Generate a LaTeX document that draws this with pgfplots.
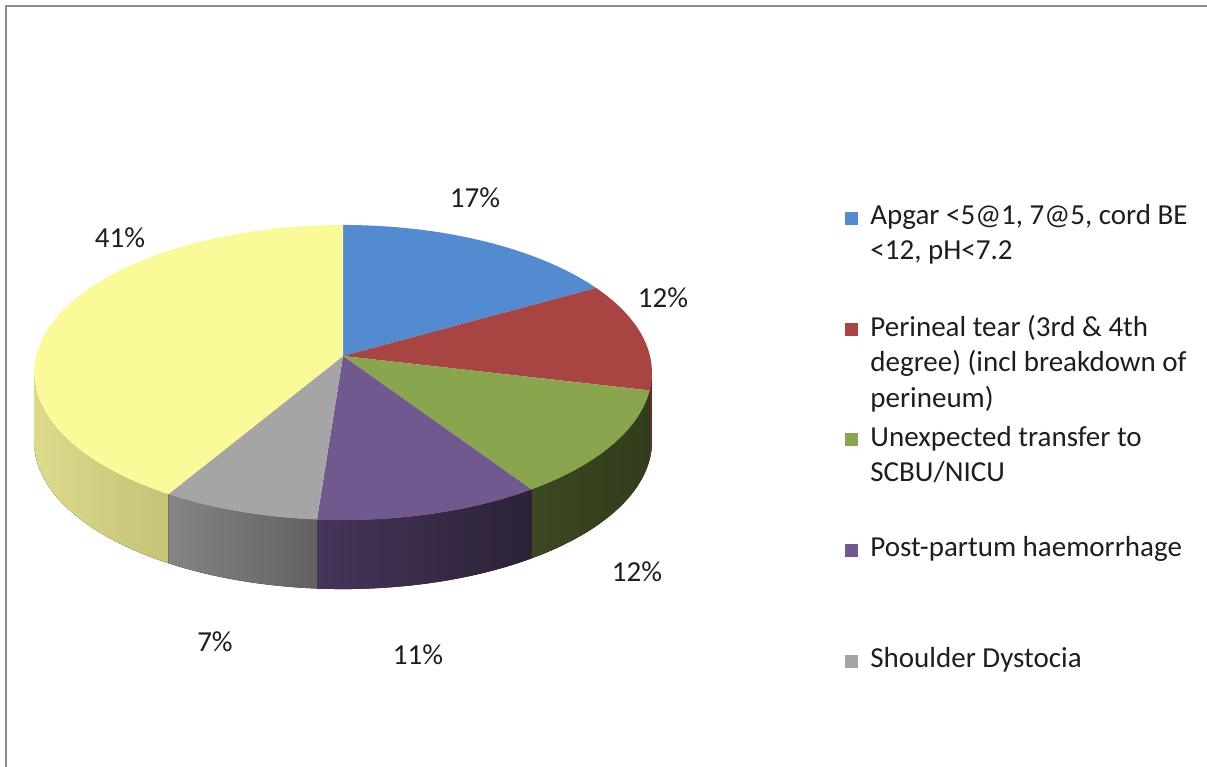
\documentclass[border=0pt]{standalone}
\usepackage{fontspec}
\setmainfont{Carlito}
\usepackage{pgfplots}
\usepackage{pgfplotstable}
\pgfplotsset{compat=1.18}
\usepgfplotslibrary{fillbetween}
\definecolor{cBlue}{HTML}{528BD0}
\definecolor{cRed}{HTML}{A84543}
\definecolor{cGreen}{HTML}{89A54E}
\definecolor{cPurple}{HTML}{71588F}
\definecolor{cGray}{HTML}{A5A5A5}
\definecolor{cYellow}{HTML}{FAFA98}
\definecolor{sRedL}{HTML}{7A2E2D}
\definecolor{sRedR}{HTML}{5E2321}
\definecolor{sGreenL}{HTML}{3B4822}
\definecolor{sGreenR}{HTML}{323D1C}
\definecolor{sPurpleL}{HTML}{45355A}
\definecolor{sPurpleR}{HTML}{2C2236}
\definecolor{sGrayL}{HTML}{858585}
\definecolor{sGrayR}{HTML}{616161}
\definecolor{sYellowL}{HTML}{DCDA8B}
\definecolor{sYellowR}{HTML}{C6C276}
\definecolor{labelc}{HTML}{1E1E1E}
\definecolor{borderc}{HTML}{8C8C8C}
% share of each category (%)
\pgfplotstableread{
pct
16.8
11.9
11.9
10.6
7.4
41.4
}\piedata
\pgfplotstablegetelem{0}{pct}\of\piedata \let\pA\pgfplotsretval
\pgfplotstablegetelem{1}{pct}\of\piedata \let\pB\pgfplotsretval
\pgfplotstablegetelem{2}{pct}\of\piedata \let\pC\pgfplotsretval
\pgfplotstablegetelem{3}{pct}\of\piedata \let\pD\pgfplotsretval
\pgfplotstablegetelem{4}{pct}\of\piedata \let\pE\pgfplotsretval
\pgfplotstablegetelem{5}{pct}\of\piedata \let\pF\pgfplotsretval
\pgfmathsetmacro\tA{90}
\pgfmathsetmacro\tB{\tA-3.6*\pA}
\pgfmathsetmacro\tC{\tB-3.6*\pB}
\pgfmathsetmacro\tD{\tC-3.6*\pC}
\pgfmathsetmacro\tE{\tD-3.6*\pD}
\pgfmathsetmacro\tF{\tE-3.6*\pE}
\pgfmathsetmacro\tG{\tF-3.6*\pF}
\newcommand\pctlabel[1]{\pgfmathprintnumber[fixed,precision=0,assume math mode=true]{#1}\%}
\begin{document}%
\fontsize{14.5pt}{17.7pt}\selectfont%
\begin{tikzpicture}
\begin{axis}[scale only axis, width=603.5pt, height=383.5pt,
  xmin=0, xmax=1207, ymin=0, ymax=767, hide axis, clip=false,
  declare function={px(\t)=343+307*cos(\t)/(1+0.112*sin(\t));
                    py(\t)=411+145.7*sin(\t)/(1+0.112*sin(\t));},
  legend image code/.code={\fill[#1] (0pt,0pt) rectangle (6.5pt,6.5pt);},
  legend style={at={(0.7001,0.7340)}, anchor=north west, draw=none, fill=none,
    inner sep=0pt, row sep=0pt, column sep=6pt, nodes={inner sep=0pt, text depth=},
    cells={anchor=base west}, text=labelc,
    font=\fontsize{14.5pt}{17.7pt}\selectfont},
]
\coordinate (BL) at (rel axis cs:0,0);
\coordinate (TR) at (rel axis cs:1,1);
% legend
\addlegendimage{fill=cBlue, draw=none}
\addlegendentry{\parbox[t][55.4pt][t]{190pt}{Apgar <5@1, 7@5, cord BE\\<12, pH<7.2}}
\addlegendimage{fill=cRed, draw=none}
\addlegendentry{\parbox[t][55.4pt][t]{190pt}{Perineal tear (3rd \& 4th\\degree) (incl breakdown of\\perineum)}}
\addlegendimage{fill=cGreen, draw=none}
\addlegendentry{\parbox[t][55.4pt][t]{190pt}{Unexpected transfer to\\SCBU/NICU}}
\addlegendimage{fill=cPurple, draw=none}
\addlegendentry{\parbox[t][55.4pt][t]{190pt}{Post-partum haemorrhage}}
\addlegendimage{fill=cGray, draw=none}
\addlegendentry{\parbox[t][55.4pt][t]{190pt}{Shoulder Dystocia}}
% side walls (front, visible part only)
\addplot[name path=rT, draw=none, forget plot, domain=\tC:-6.4, samples=12] ({px(x)},{py(x)});
\addplot[name path=rB, draw=none, forget plot, domain=\tC:-6.4, samples=12] ({px(x)},{py(x)-69});
\addplot[left color=sRedL, right color=sRedR, forget plot] fill between[of=rT and rB];
\addplot[name path=gT, draw=none, forget plot, domain=\tD:\tC, samples=30] ({px(x)},{py(x)});
\addplot[name path=gB, draw=none, forget plot, domain=\tD:\tC, samples=30] ({px(x)},{py(x)-69});
\addplot[left color=sGreenL, right color=sGreenR, forget plot] fill between[of=gT and gB];
\addplot[name path=uT, draw=none, forget plot, domain=\tE:\tD, samples=30] ({px(x)},{py(x)});
\addplot[name path=uB, draw=none, forget plot, domain=\tE:\tD, samples=30] ({px(x)},{py(x)-69});
\addplot[left color=sPurpleL, right color=sPurpleR, forget plot] fill between[of=uT and uB];
\addplot[name path=aT, draw=none, forget plot, domain=\tF:\tE, samples=20] ({px(x)},{py(x)});
\addplot[name path=aB, draw=none, forget plot, domain=\tF:\tE, samples=20] ({px(x)},{py(x)-69});
\addplot[left color=sGrayL, right color=sGrayR, forget plot] fill between[of=aT and aB];
\addplot[name path=yT, draw=none, forget plot, domain=-173.6:\tF, samples=40] ({px(x)},{py(x)});
\addplot[name path=yB, draw=none, forget plot, domain=-173.6:\tF, samples=40] ({px(x)},{py(x)-69});
\addplot[left color=sYellowL, right color=sYellowR, forget plot] fill between[of=yT and yB];
% top faces
\addplot[fill=cBlue, draw=none, forget plot, domain=\tB:\tA, samples=50] ({px(x)},{py(x)}) -- (axis cs:343,411) -- cycle;
\addplot[fill=cRed, draw=none, forget plot, domain=\tC:\tB, samples=40] ({px(x)},{py(x)}) -- (axis cs:343,411) -- cycle;
\addplot[fill=cGreen, draw=none, forget plot, domain=\tD:\tC, samples=40] ({px(x)},{py(x)}) -- (axis cs:343,411) -- cycle;
\addplot[fill=cPurple, draw=none, forget plot, domain=\tE:\tD, samples=40] ({px(x)},{py(x)}) -- (axis cs:343,411) -- cycle;
\addplot[fill=cGray, draw=none, forget plot, domain=\tF:\tE, samples=30] ({px(x)},{py(x)}) -- (axis cs:343,411) -- cycle;
\addplot[fill=cYellow, draw=none, forget plot, domain=\tG:\tF, samples=100] ({px(x)},{py(x)}) -- (axis cs:343,411) -- cycle;
% data labels
\node[text=labelc] at (axis cs:475,569) {\pctlabel{\pA}};
\node[text=labelc] at (axis cs:663,469) {\pctlabel{\pB}};
\node[text=labelc] at (axis cs:637,195) {\pctlabel{\pC}};
\node[text=labelc] at (axis cs:418,112) {\pctlabel{\pD}};
\node[text=labelc] at (axis cs:215,125) {\pctlabel{\pE}};
\node[text=labelc] at (axis cs:120,529) {\pctlabel{\pF}};
% chart-area border (right and bottom edges fall outside the picture)
\draw[borderc, line width=1pt] (axis cs:6,-30) -- (axis cs:6,761) -- (axis cs:1240,761);
\end{axis}
\pgfresetboundingbox
\useasboundingbox (BL) rectangle (TR);
\end{tikzpicture}%
\end{document}
